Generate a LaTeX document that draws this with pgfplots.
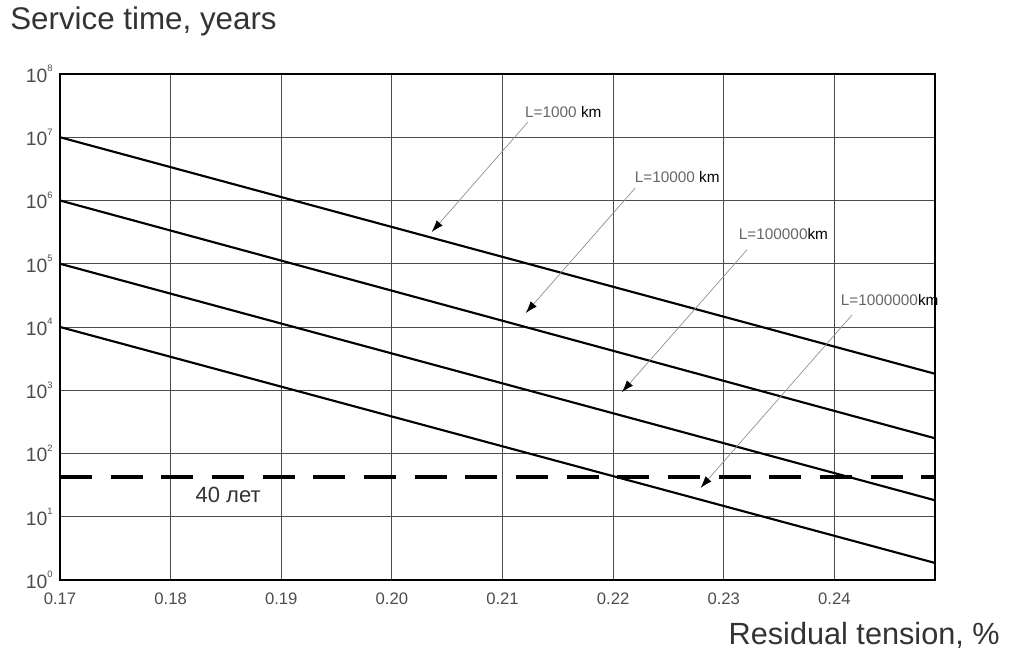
\documentclass[border=0pt]{standalone}
\usepackage{fontspec}
\setmainfont{Liberation Sans}
\usepackage{pgfplots}
\pgfplotsset{compat=1.18}
\usetikzlibrary{arrows.meta}
\newcommand{\ysup}[1]{10\raisebox{0.55em}{\fontsize{7}{8}\selectfont #1}}
\begin{document}
\begin{tikzpicture}[x=1pt,y=1pt]
\begin{axis}[
  at={(0,0)}, anchor=south west,
  scale only axis, width=656.25pt, height=379.5pt,
  xmin=0.17, xmax=0.2491,
  ymode=log, ymin=1, ymax=1e8,
  xtick={0.17,0.18,0.19,0.20,0.21,0.22,0.23,0.24},
  xticklabels={0.17,0.18,0.19,0.20,0.21,0.22,0.23,0.24},
  ytick={1,10,100,1000,10000,100000,1000000,10000000,100000000},
  yticklabels={\ysup{0},\ysup{1},\ysup{2},\ysup{3},\ysup{4},\ysup{5},\ysup{6},\ysup{7},\ysup{8}},
  minor tick num=0,
  tick style={draw=none},
  grid=major,
  major grid style={black!70, line width=0.6pt},
  axis line style={black, line width=1.2pt},
  xticklabel style={font=\fontsize{12.5}{14}\selectfont, text=black!70, yshift=-6pt},
  yticklabel style={font=\fontsize{14.5}{16}\selectfont, text=black!70, xshift=-2pt},
  clip=false,
]
\addplot[black, line width=1.6pt] coordinates {(0.17,1e7) (0.2491,1820)};
\addplot[black, line width=1.6pt] coordinates {(0.17,1e6) (0.2491,174)};
\addplot[black, line width=1.6pt] coordinates {(0.17,1e5) (0.2491,18.2)};
\addplot[black, line width=1.6pt] coordinates {(0.17,1e4) (0.2491,1.86)};
\addplot[black, line width=3pt, dash pattern=on 24pt off 14pt] coordinates {(0.17,42.6) (0.2491,42.6)};

\draw[black!45, line width=0.5pt, -{Latex[black,length=9pt,width=6pt]}]
  (axis cs:0.2123,1.74e7) -- (axis cs:0.2036,3.17e5);
\draw[black!45, line width=0.5pt, -{Latex[black,length=9pt,width=6pt]}]
  (axis cs:0.2220,1.58e6) -- (axis cs:0.2121,1.66e4);
\draw[black!45, line width=0.5pt, -{Latex[black,length=9pt,width=6pt]}]
  (axis cs:0.2321,1.66e5) -- (axis cs:0.2208,933);
\draw[black!45, line width=0.5pt, -{Latex[black,length=9pt,width=6pt]}]
  (axis cs:0.2416,1.55e4) -- (axis cs:0.2279,28.5);

\node[font=\fontsize{11.5}{13}\selectfont, inner sep=0pt] at (axis cs:0.2155,2.5e7) {\textcolor{black!60}{L=1000} km};
\node[font=\fontsize{11.5}{13}\selectfont, inner sep=0pt] at (axis cs:0.2258,2.34e6) {\textcolor{black!60}{L=10000} km};
\node[font=\fontsize{11.5}{13}\selectfont, inner sep=0pt] at (axis cs:0.2354,2.95e5) {\textcolor{black!60}{L=100000}km};
\node[font=\fontsize{11.5}{13}\selectfont, inner sep=0pt] at (axis cs:0.2450,2.69e4) {\textcolor{black!60}{L=1000000}km};
\node[font=\fontsize{16.5}{18}\selectfont, text=black!80, inner sep=0pt] at (axis cs:0.1852,21.9) {40 лет};
\end{axis}
\node[anchor=base west, font=\fontsize{23.5}{26}\selectfont, text=black!80, inner sep=0pt] at (-37.5pt,413pt) {Service time, years};
\node[anchor=base east, font=\fontsize{23}{26}\selectfont, text=black!80, inner sep=0pt] at (705pt,-48.75pt) {Residual tension, \%};
\pgfresetboundingbox
\path[use as bounding box] (-45pt,-56.25pt) rectangle (715.5pt,435pt);
\end{tikzpicture}
\end{document}
